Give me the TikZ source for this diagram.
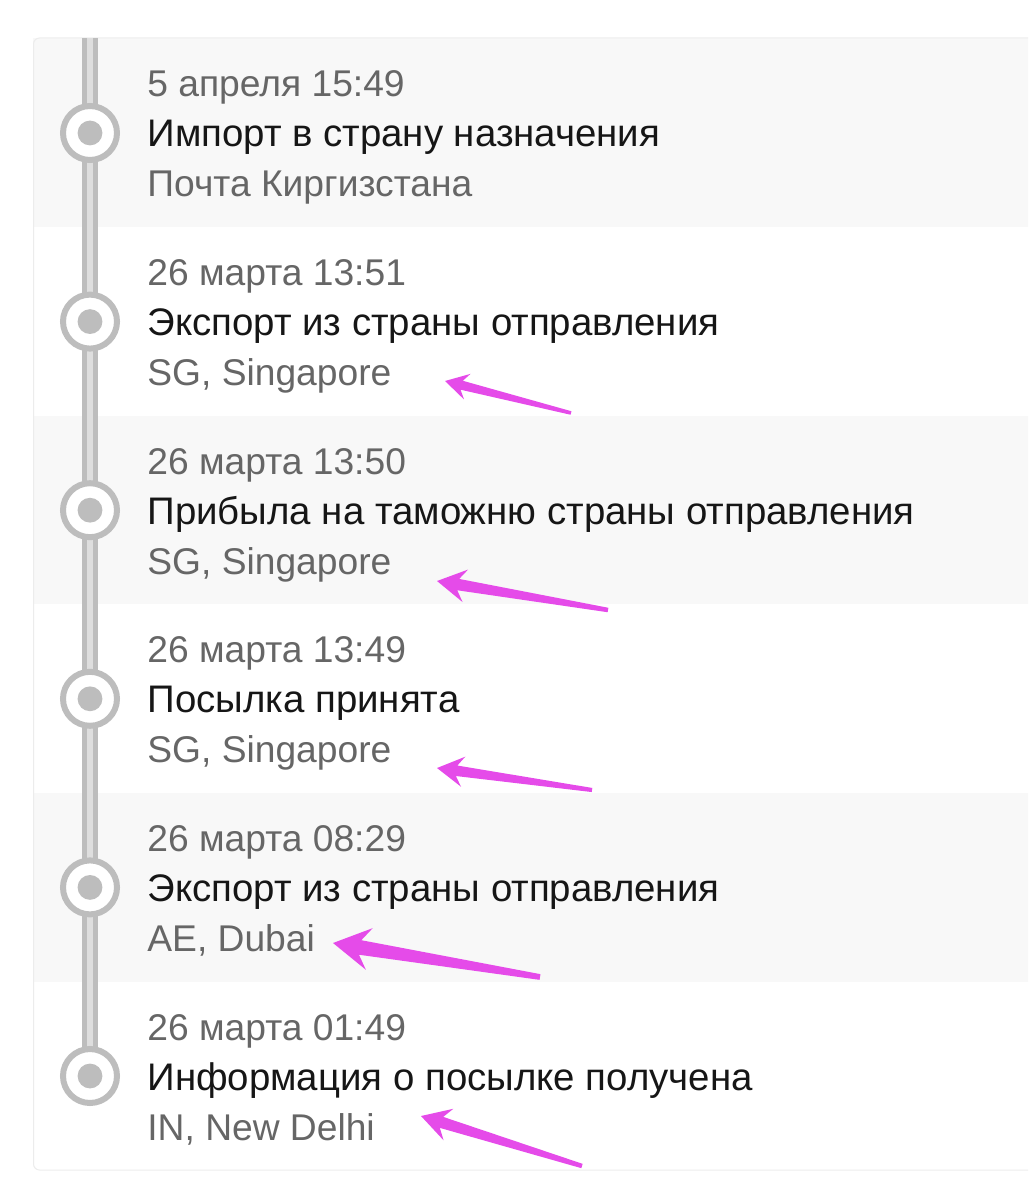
\documentclass[tikz,border=0pt]{standalone}
\usepackage{fontspec}
\setmainfont{Liberation Sans}
\usetikzlibrary{calc}

\begin{document}
\begin{tikzpicture}[x=0.5pt,y=-0.5pt,
	every node/.style={inner sep=0pt,anchor=base west,font=\fontsize{18.6pt}{22pt}\selectfont},
	datetext/.style={text=datecol},
	eventtext/.style={text=eventcol,font=\fontsize{19.2pt}{22pt}\selectfont},
	placetext/.style={text=datecol}]

\definecolor{rowgray}{HTML}{F8F8F8}
\definecolor{cardline}{HTML}{ECECEC}
\definecolor{timegray}{HTML}{BDBDBD}
\definecolor{timelight}{HTML}{DEDEDE}
\definecolor{datecol}{HTML}{666666}
\definecolor{eventcol}{HTML}{161616}
\definecolor{arrowpink}{HTML}{E54BE9}

\useasboundingbox (0,0) rectangle (1028,1186);
\clip (0,0) rectangle (1028,1186);

% card and rows
\fill[white] (33,38) rectangle (1040,1170);
\foreach \i in {0,2,4}{
	\fill[rowgray] (33,{38+\i*188.8}) rectangle (1040,{38+(\i+1)*188.8});
}
\draw[cardline,line width=0.5pt,rounded corners=3pt] (1040,38)--(33.5,38)--(33.5,1170)--(1040,1170);

% timeline
\fill[timegray] (82,38) rectangle (98,1076);
\fill[timelight] (87,38) rectangle (92.5,1076);

\foreach \d/\e/\p [count=\i from 0] in {
	{5 апреля 15:49}/{Импорт в страну назначения}/{Почта Киргизстана},
	{26 марта 13:51}/{Экспорт из страны отправления}/{SG, Singapore},
	{26 марта 13:50}/{Прибыла на таможню страны отправления}/{SG, Singapore},
	{26 марта 13:49}/{Посылка принята}/{SG, Singapore},
	{26 марта 08:29}/{Экспорт из страны отправления}/{AE, Dubai},
	{26 марта 01:49}/{Информация о посылке получена}/{IN, New Delhi}}{
	\pgfmathsetmacro\c{133+\i*188.6}
	\filldraw[fill=white,draw=timegray,line width=3pt] (90,\c) circle[radius=13.5pt];
	\fill[timegray] (90,\c) circle[radius=6.2pt];
	\node[datetext] (date\i) at (147,\c-36) {\d};
	\node[eventtext] (event\i) at (147,\c+14) {\e};
	\node[placetext] (place\i) at (147,\c+64) {\p};
}

% pink arrows
\foreach \n/\tx/\ty/\hx/\hy/\s in {
	1/571/413/445/381/1,
	2/608/610/437/581/1.25,
	3/592/790/437/768/1.15,
	4/540/977/333/943/1.6,
	5/582/1166/421/1116/1.25}{
	\coordinate (tail\n) at (\tx,\ty);
	\coordinate (head\n) at (\hx,\hy);
	\pgfmathsetmacro\hl{11.5*\s}
	\pgfmathsetmacro\nl{8.6*\s}
	\pgfmathsetmacro\bw{6.6*\s}
	\pgfmathsetmacro\nw{2.3*\s}
	\pgfmathsetmacro\tw{0.9*\s}
	\fill[arrowpink]
		($(tail\n)!\tw pt!90:(head\n)$)
		-- ($($(head\n)!\nl pt!(tail\n)$)!\nw pt!-90:(tail\n)$)
		-- ($($(head\n)!\hl pt!(tail\n)$)!\bw pt!-90:(tail\n)$)
		-- (head\n)
		-- ($($(head\n)!\hl pt!(tail\n)$)!\bw pt!90:(tail\n)$)
		-- ($($(head\n)!\nl pt!(tail\n)$)!\nw pt!90:(tail\n)$)
		-- ($(tail\n)!\tw pt!-90:(head\n)$) -- cycle;
}

\end{tikzpicture}
\end{document}
